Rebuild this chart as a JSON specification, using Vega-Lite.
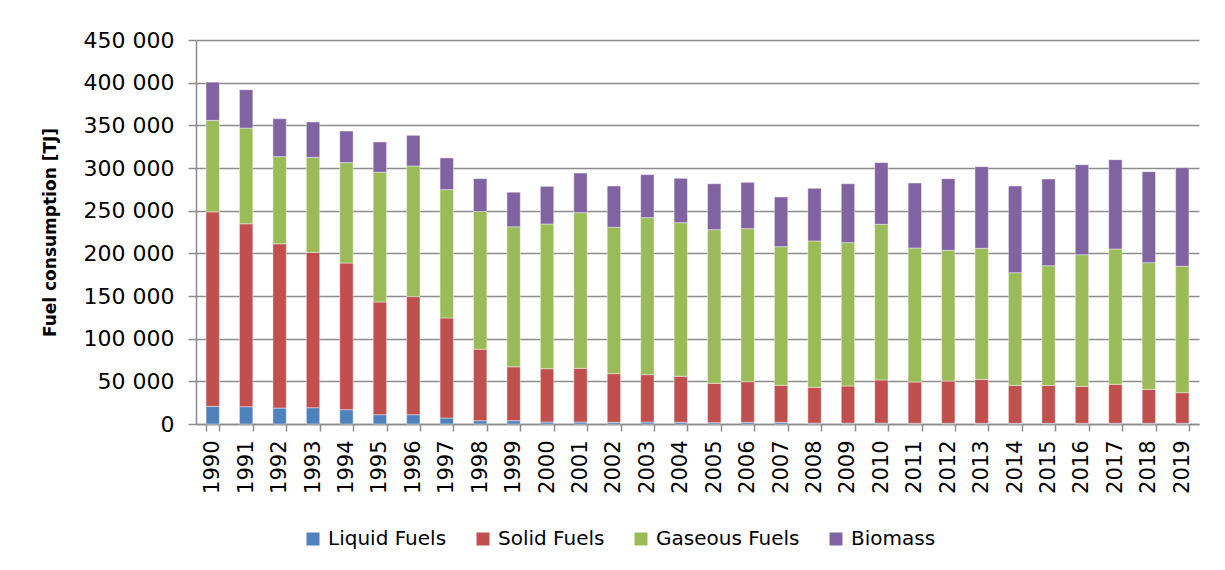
{
  "$schema": "https://vega.github.io/schema/vega-lite/v6.json",
  "width": 1003,
  "height": 384,
  "autosize": {"type": "none"},
  "padding": {"left": 196, "top": 40, "right": 26, "bottom": 146},
  "background": "white",
  "data": {
    "values": [
      {"year": "1990", "Liquid Fuels": 20700, "Solid Fuels": 227900, "Gaseous Fuels": 107200, "Biomass": 44800},
      {"year": "1991", "Liquid Fuels": 20300, "Solid Fuels": 214300, "Gaseous Fuels": 112200, "Biomass": 44900},
      {"year": "1992", "Liquid Fuels": 18700, "Solid Fuels": 192500, "Gaseous Fuels": 102100, "Biomass": 44500},
      {"year": "1993", "Liquid Fuels": 19100, "Solid Fuels": 182000, "Gaseous Fuels": 111400, "Biomass": 41400},
      {"year": "1994", "Liquid Fuels": 16800, "Solid Fuels": 171800, "Gaseous Fuels": 117700, "Biomass": 37000},
      {"year": "1995", "Liquid Fuels": 10900, "Solid Fuels": 132100, "Gaseous Fuels": 152000, "Biomass": 35500},
      {"year": "1996", "Liquid Fuels": 10900, "Solid Fuels": 138400, "Gaseous Fuels": 153100, "Biomass": 35900},
      {"year": "1997", "Liquid Fuels": 7000, "Solid Fuels": 117300, "Gaseous Fuels": 150400, "Biomass": 37100},
      {"year": "1998", "Liquid Fuels": 3900, "Solid Fuels": 83800, "Gaseous Fuels": 161300, "Biomass": 38600},
      {"year": "1999", "Liquid Fuels": 3900, "Solid Fuels": 63100, "Gaseous Fuels": 164100, "Biomass": 40500},
      {"year": "2000", "Liquid Fuels": 2300, "Solid Fuels": 62500, "Gaseous Fuels": 169600, "Biomass": 44100},
      {"year": "2001", "Liquid Fuels": 2300, "Solid Fuels": 62900, "Gaseous Fuels": 182500, "Biomass": 46400},
      {"year": "2002", "Liquid Fuels": 2000, "Solid Fuels": 57000, "Gaseous Fuels": 171500, "Biomass": 48400},
      {"year": "2003", "Liquid Fuels": 2300, "Solid Fuels": 55500, "Gaseous Fuels": 184000, "Biomass": 50400},
      {"year": "2004", "Liquid Fuels": 2000, "Solid Fuels": 53900, "Gaseous Fuels": 180000, "Biomass": 52000},
      {"year": "2005", "Liquid Fuels": 1600, "Solid Fuels": 46100, "Gaseous Fuels": 180000, "Biomass": 53900},
      {"year": "2006", "Liquid Fuels": 2000, "Solid Fuels": 47600, "Gaseous Fuels": 179300, "Biomass": 54300},
      {"year": "2007", "Liquid Fuels": 2000, "Solid Fuels": 43300, "Gaseous Fuels": 162500, "Biomass": 58200},
      {"year": "2008", "Liquid Fuels": 1000, "Solid Fuels": 42000, "Gaseous Fuels": 171500, "Biomass": 61700},
      {"year": "2009", "Liquid Fuels": 1000, "Solid Fuels": 43500, "Gaseous Fuels": 168000, "Biomass": 69100},
      {"year": "2010", "Liquid Fuels": 1000, "Solid Fuels": 50600, "Gaseous Fuels": 182400, "Biomass": 72300},
      {"year": "2011", "Liquid Fuels": 800, "Solid Fuels": 48400, "Gaseous Fuels": 157100, "Biomass": 76100},
      {"year": "2012", "Liquid Fuels": 800, "Solid Fuels": 49600, "Gaseous Fuels": 153100, "Biomass": 84000},
      {"year": "2013", "Liquid Fuels": 800, "Solid Fuels": 51500, "Gaseous Fuels": 153600, "Biomass": 95700},
      {"year": "2014", "Liquid Fuels": 800, "Solid Fuels": 44500, "Gaseous Fuels": 132000, "Biomass": 101600},
      {"year": "2015", "Liquid Fuels": 800, "Solid Fuels": 44500, "Gaseous Fuels": 140200, "Biomass": 101600},
      {"year": "2016", "Liquid Fuels": 800, "Solid Fuels": 43300, "Gaseous Fuels": 154300, "Biomass": 105500},
      {"year": "2017", "Liquid Fuels": 800, "Solid Fuels": 45700, "Gaseous Fuels": 158600, "Biomass": 104700},
      {"year": "2018", "Liquid Fuels": 800, "Solid Fuels": 39800, "Gaseous Fuels": 148500, "Biomass": 106600},
      {"year": "2019", "Liquid Fuels": 800, "Solid Fuels": 35900, "Gaseous Fuels": 148100, "Biomass": 115600}
    ]
  },
  "transform": [
    {"fold": ["Liquid Fuels", "Solid Fuels", "Gaseous Fuels", "Biomass"], "as": ["fuel", "value"]},
    {"calculate": "indexof(['Liquid Fuels', 'Solid Fuels', 'Gaseous Fuels', 'Biomass'], datum.fuel)", "as": "stackOrder"}
  ],
  "mark": {"type": "bar", "stroke": "white", "strokeWidth": 0.6, "strokeOpacity": 0.7},
  "encoding": {
    "x": {
      "field": "year",
      "type": "ordinal",
      "scale": {"paddingInner": 0.6, "paddingOuter": 0.3},
      "axis": {
        "title": null,
        "labelAngle": -90,
        "labelFont": "DejaVu Sans",
        "labelFontSize": 21,
        "labelColor": "#000000",
        "labelPadding": 9,
        "tickBand": "extent",
        "tickSize": 7,
        "tickColor": "#8c8c8c",
        "tickWidth": 1.5,
        "domainColor": "#8c8c8c",
        "domainWidth": 1.5,
        "grid": false
      }
    },
    "y": {
      "field": "value",
      "type": "quantitative",
      "stack": "zero",
      "scale": {"domain": [0, 450000], "nice": false},
      "axis": {
        "title": "Fuel consumption [TJ]",
        "titleFont": "DejaVu Sans",
        "titleFontSize": 17,
        "titleFontWeight": "bold",
        "titleColor": "#000000",
        "titlePadding": 24,
        "values": [0, 50000, 100000, 150000, 200000, 250000, 300000, 350000, 400000, 450000],
        "labelExpr": "replace(format(datum.value, ','), ',', ' ')",
        "labelFont": "DejaVu Sans",
        "labelFontSize": 22,
        "labelColor": "#000000",
        "labelPadding": 14,
        "tickSize": 8,
        "tickColor": "#8c8c8c",
        "tickWidth": 1.5,
        "domainColor": "#8c8c8c",
        "domainWidth": 1.5,
        "grid": true,
        "gridColor": "#8c8c8c",
        "gridWidth": 1.5
      }
    },
    "color": {
      "field": "fuel",
      "type": "nominal",
      "sort": ["Liquid Fuels", "Solid Fuels", "Gaseous Fuels", "Biomass"],
      "scale": {
        "domain": ["Liquid Fuels", "Solid Fuels", "Gaseous Fuels", "Biomass"],
        "range": ["#4F81BD", "#C0504D", "#9BBB59", "#8064A2"]
      },
      "legend": {
        "title": null,
        "orient": "none",
        "legendX": 107,
        "legendY": 489,
        "padding": 0,
        "direction": "horizontal",
        "symbolType": "square",
        "symbolSize": 169,
        "symbolStrokeWidth": 0,
        "labelFont": "DejaVu Sans",
        "labelFontSize": 20,
        "labelColor": "#000000",
        "labelOffset": 5,
        "columnPadding": 26
      }
    },
    "order": {"field": "stackOrder", "type": "quantitative", "sort": "ascending"}
  },
  "config": {
    "view": {"stroke": null}
  }
}
